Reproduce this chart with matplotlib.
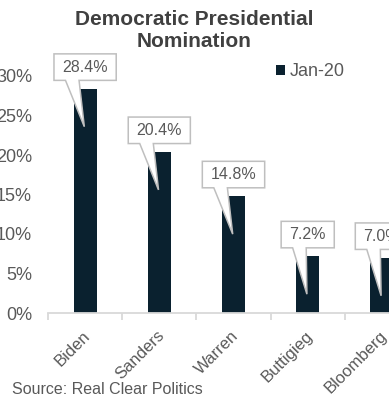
import matplotlib
matplotlib.use('Agg')
import matplotlib.pyplot as plt
import matplotlib.transforms as mtransforms
from matplotlib.path import Path
from matplotlib.ticker import FixedLocator, PercentFormatter

plt.rcParams['font.family'] = ['Liberation Sans', 'DejaVu Sans']

candidates = ['Biden', 'Sanders', 'Warren', 'Buttigieg', 'Bloomberg']
jan_20 = [0.284, 0.204, 0.148, 0.072, 0.070]
series_name = 'Jan-20'
y_ticks = [0.0, 0.05, 0.10, 0.15, 0.20, 0.25, 0.30]

bar_color = '#0A212F'
text_color = '#595959'
box_edge = '#BFBFBF'


def callout_box(x0, y0, width, height, mutation_size):
    # rectangular label box with a wedge pointing down into the bar
    m = mutation_size
    padx, pady = 0.52 * m, 0.36 * m
    left, right = x0 - padx, x0 + width + padx
    bottom, top = y0 - pady, y0 + height + pady
    cx = x0 + width / 2
    base_l = left + 0.72 * m
    base_r = base_l + 0.85 * m
    tip = (cx - 0.05 * m, bottom - 2.9 * m)
    verts = [(left, bottom), (base_l, bottom), tip, (base_r, bottom),
             (right, bottom), (right, top), (left, top), (left, bottom)]
    codes = [Path.MOVETO] + [Path.LINETO] * 6 + [Path.CLOSEPOLY]
    return Path(verts, codes)


fig = plt.figure(figsize=(3.89, 3.97), dpi=100)
ax = fig.add_axes([48 / 389, 84 / 397, 371 / 389, 237 / 397])

x = list(range(len(candidates)))
ax.bar(x, jan_20, width=0.31, color=bar_color, label=series_name, zorder=2)

ax.set_xlim(-0.5, len(candidates) - 0.5)
ax.set_ylim(0, 0.30)
ax.yaxis.set_major_locator(FixedLocator(y_ticks))
ax.yaxis.set_major_formatter(PercentFormatter(1.0, decimals=0))

for side in ['top', 'right', 'left']:
    ax.spines[side].set_visible(False)
ax.spines['bottom'].set_color('#D9D9D9')
ax.spines['bottom'].set_linewidth(1.3)

ax.set_xticks(x)
ax.set_xticks([i - 0.5 for i in x], minor=True)
ax.tick_params(axis='x', which='major', length=0, pad=14.5,
               labelsize=12, labelcolor=text_color)
ax.tick_params(axis='x', which='minor', length=5, width=1.3,
               color='#D9D9D9', direction='out')
ax.tick_params(axis='y', length=0, pad=11.5, labelsize=13,
               labelcolor=text_color)

ax.set_xticklabels(candidates)
shift = mtransforms.ScaledTranslation(3 / 100, 0, fig.dpi_scale_trans)
for lab in ax.get_xticklabels():
    lab.set_rotation(45)
    lab.set_rotation_mode('anchor')
    lab.set_ha('right')
    lab.set_va('center')
    lab.set_transform(lab.get_transform() + shift)

for xi, v in zip(x, jan_20):
    ax.annotate(
        f'{v * 100:.1f}%',
        xy=(xi, v),
        xytext=(0, 15.5),
        textcoords='offset points',
        ha='center', va='center',
        fontsize=11.5, color=text_color,
        bbox=dict(boxstyle=callout_box, fc='white', ec=box_edge, lw=1.1),
        zorder=5,
        annotation_clip=False,
    )

ax.legend(loc='center left', bbox_to_anchor=(276 / 389, 1 - 72 / 397),
          bbox_transform=fig.transFigure, frameon=False, fontsize=13,
          handlelength=0.5, handleheight=0.5, handletextpad=0.25,
          borderpad=0, borderaxespad=0, labelcolor=text_color)

fig.text(0.5, 1 - 10 / 397, 'Democratic Presidential\nNomination',
         ha='center', va='top', fontsize=15, fontweight='bold',
         color='#404040', linespacing=1.2)

fig.text(12 / 389, 3 / 397, 'Source: Real Clear Politics',
         ha='left', va='baseline', fontsize=11.5, color=text_color)

fig.savefig('out.png', dpi=100)
plt.close(fig)
